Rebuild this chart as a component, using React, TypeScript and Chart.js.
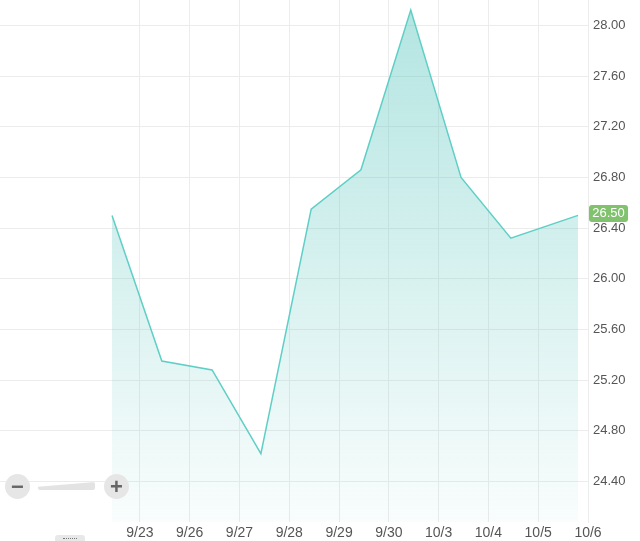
import { useEffect, useRef } from 'react';
import { Chart, registerables } from 'chart.js';

Chart.register(...registerables);

// day labels sit on integer positions of the x axis
const dayLabels = ['9/23', '9/26', '9/27', '9/28', '9/29', '9/30', '10/3', '10/4', '10/5', '10/6'];
// sample positions (in day units) and prices
const sampleX = [-0.56, 0.44, 1.45, 2.43, 3.44, 4.44, 5.44, 6.45, 7.45, 8.8];
const prices = [26.5, 25.35, 25.28, 24.62, 26.55, 26.86, 28.12, 26.8, 26.32, 26.5];
const priceTicks = [24.4, 24.8, 25.2, 25.6, 26.0, 26.4, 26.8, 27.2, 27.6, 28.0];

const LINE = '#5fcfc6';
const GRID = '#ececec';
const TEXT = '#555555';

// green badge with the last price on the right axis
const lastPriceTag = {
  id: 'lastPriceTag',
  afterDraw(chart: any) {
    const { ctx, chartArea, scales } = chart;
    const last = prices[prices.length - 1];
    const y = scales.y.getPixelForValue(last);
    const x = chartArea.right + 1;
    const w = 39;
    const h = 17;
    ctx.save();
    ctx.fillStyle = '#80c26d';
    ctx.beginPath();
    ctx.roundRect(x, y - h / 2 - 2, w, h, 3);
    ctx.fill();
    ctx.fillStyle = '#ffffff';
    ctx.font = '13px "Liberation Sans", Arial, sans-serif';
    ctx.textAlign = 'center';
    ctx.textBaseline = 'middle';
    ctx.fillText(last.toFixed(2), x + w / 2, y - 1.5);
    ctx.restore();
  },
};

function ZoomControls() {
  const circle: React.CSSProperties = {
    position: 'absolute',
    width: 25,
    height: 25,
    borderRadius: '50%',
    background: '#e6e6e6',
    color: '#666',
    fontFamily: '"Liberation Sans", Arial, sans-serif',
    fontWeight: 'bold',
    fontSize: 22,
    lineHeight: '25px',
    textAlign: 'center',
    top: 474,
  };
  return (
    <>
      <div style={{ ...circle, left: 5 }}>−</div>
      <div
        style={{
          position: 'absolute',
          left: 38,
          top: 482,
          width: 57,
          height: 8,
          background: '#e3e3e3',
          clipPath: 'polygon(0 60%, 100% 0, 100% 100%, 0 100%)',
          borderRadius: 2,
        }}
      />
      <div style={{ ...circle, left: 104 }}>+</div>
      <div
        style={{
          position: 'absolute',
          left: 55,
          top: 535,
          width: 30,
          height: 8,
          background: '#e8e8e8',
          borderRadius: 3,
        }}
      >
        <div style={{ margin: '3px 8px 0', borderTop: '1px dotted #777' }} />
      </div>
    </>
  );
}

export default function App() {
  const canvasRef = useRef<HTMLCanvasElement>(null);

  useEffect(() => {
    if (!canvasRef.current) return;
    document.body.style.margin = '0';

    const chart = new Chart(canvasRef.current, {
      type: 'line',
      data: {
        datasets: [
          {
            data: sampleX.map((x, i) => ({ x, y: prices[i] })),
            borderColor: LINE,
            borderWidth: 1.5,
            pointRadius: 0,
            tension: 0,
            fill: 'start',
            backgroundColor: (c: any) => {
              const area = c.chart.chartArea;
              if (!area) return 'rgba(95,207,198,0.2)';
              const g = c.chart.ctx.createLinearGradient(0, area.top, 0, area.bottom);
              g.addColorStop(0, 'rgba(95,200,192,0.48)');
              g.addColorStop(1, 'rgba(95,200,192,0.04)');
              return g;
            },
          },
        ],
      },
      options: {
        animation: false,
        responsive: true,
        maintainAspectRatio: false,
        layout: { padding: 0 },
        plugins: { legend: { display: false }, tooltip: { enabled: false } },
        scales: {
          x: {
            type: 'linear',
            min: -2.81,
            max: 9,
            afterBuildTicks: (axis: any) => {
              axis.ticks = dayLabels.map((_, i) => ({ value: i }));
            },
            afterFit: (axis: any) => {
              axis.height = 19;
              axis.paddingLeft = 0;
              axis.paddingRight = 0;
            },
            grid: { color: GRID, drawTicks: false },
            border: { display: false },
            ticks: {
              padding: 3,
              color: TEXT,
              font: { size: 14, family: '"Liberation Sans", Arial, sans-serif' },
              maxRotation: 0,
              autoSkip: false,
              callback: (v: any) => dayLabels[v] ?? '',
            },
          },
          y: {
            position: 'right',
            min: 24.08,
            max: 28.2,
            afterBuildTicks: (axis: any) => {
              axis.ticks = priceTicks.map((value) => ({ value }));
            },
            afterFit: (axis: any) => {
              axis.width = 52;
              axis.paddingTop = 0;
              axis.paddingBottom = 0;
            },
            grid: { color: GRID, drawTicks: false },
            border: { display: true, color: GRID },
            ticks: {
              padding: 5,
              color: TEXT,
              font: { size: 13, family: '"Liberation Sans", Arial, sans-serif' },
              callback: (v: any) => Number(v).toFixed(2),
            },
          },
        },
      },
      plugins: [lastPriceTag],
    });

    return () => chart.destroy();
  }, []);

  return (
    <div style={{ position: 'relative', width: 640, height: 541, overflow: 'hidden' }}>
      <canvas ref={canvasRef} />
      <ZoomControls />
    </div>
  );
}
